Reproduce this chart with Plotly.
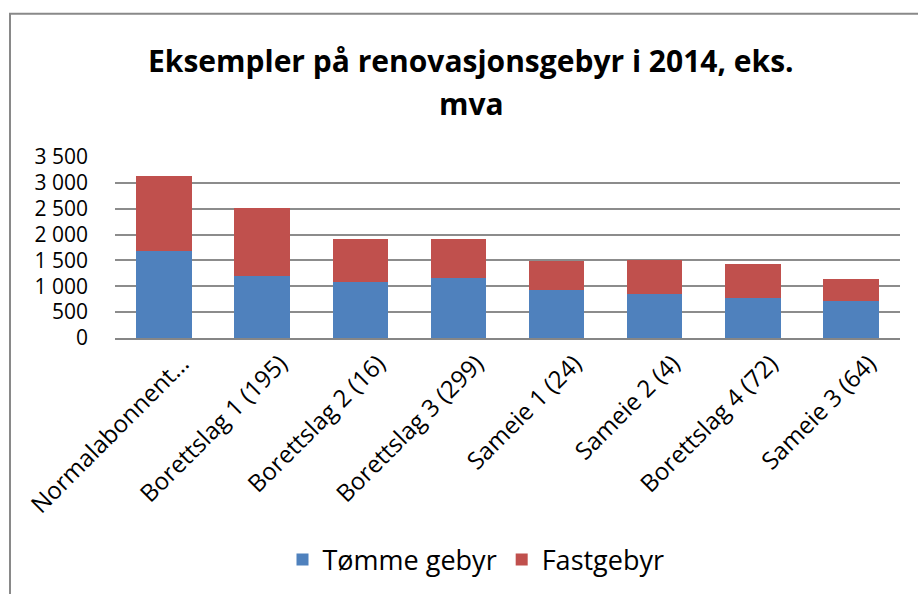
import plotly.graph_objects as go

categories = ["Normalabonnent…", "Borettslag 1 (195)", "Borettslag 2 (16)", "Borettslag 3 (299)",
              "Sameie 1 (24)", "Sameie 2 (4)", "Borettslag 4 (72)", "Sameie 3 (64)"]
tomme_gebyr = [1680, 1190, 1085, 1155, 920, 855, 767, 709]
fastgebyr = [1450, 1330, 837, 762, 568, 645, 657, 428]
ytick_vals = [0, 500, 1000, 1500, 2000, 2500, 3000, 3500]
ytick_text = ["0", "500", "1 000", "1 500", "2 000", "2 500", "3 000", "3 500"]

FONT = "Open Sans"
W, H = 918, 594
L, R, T, B = 115, 18, 157, 255
pw, ph = W - L - R, H - T - B

def px(x):
    return (x - L) / pw

def py(y):
    return (H - B - y) / ph

fig = go.Figure()
fig.add_trace(go.Bar(x=categories, y=tomme_gebyr, name="Tømme gebyr",
                     marker=dict(color="#4F81BD", line=dict(width=0))))
fig.add_trace(go.Bar(x=categories, y=fastgebyr, name="Fastgebyr",
                     marker=dict(color="#C0504D", line=dict(width=0))))

fig.update_layout(
    width=W, height=H,
    margin=dict(l=L, r=R, t=T, b=B),
    barmode="stack", bargap=0.434,
    paper_bgcolor="white", plot_bgcolor="white",
    font=dict(family=FONT, color="black"),
    showlegend=True,
    legend=dict(orientation="h", x=px(476), xanchor="center", y=py(560), yanchor="middle",
                font=dict(size=27, family=FONT), itemwidth=30, traceorder="normal"),
    xaxis=dict(showgrid=False, tickangle=-45, tickfont=dict(size=24, family=FONT),
               showline=True, linecolor="#868686", linewidth=2, ticks="",
               ticklabelshift=18),
    yaxis=dict(range=[0, 3500], tickvals=ytick_vals, ticktext=ytick_text,
               showgrid=True, gridcolor="#8c8c8c", gridwidth=1.5,
               tickfont=dict(size=21, family=FONT), showline=False, zeroline=False,
               ticklabelstandoff=26),
    annotations=[
        dict(text="<b>Eksempler på renovasjonsgebyr i 2014, eks.</b>", x=px(471), y=py(60),
             xref="paper", yref="paper", xanchor="center", yanchor="middle", showarrow=False,
             font=dict(size=30, family=FONT)),
        dict(text="<b>mva</b>", x=px(471), y=py(103),
             xref="paper", yref="paper", xanchor="center", yanchor="middle", showarrow=False,
             font=dict(size=30, family=FONT)),
    ],
    shapes=[dict(type="rect", xref="paper", yref="paper",
                 x0=px(10), x1=px(930), y0=py(610), y1=py(13),
                 line=dict(color="#898989", width=2), fillcolor="rgba(0,0,0,0)", layer="below")],
)

fig.write_html("out.html", config={"displayModeBar": False},
               post_script="document.body.style.margin='0';")
